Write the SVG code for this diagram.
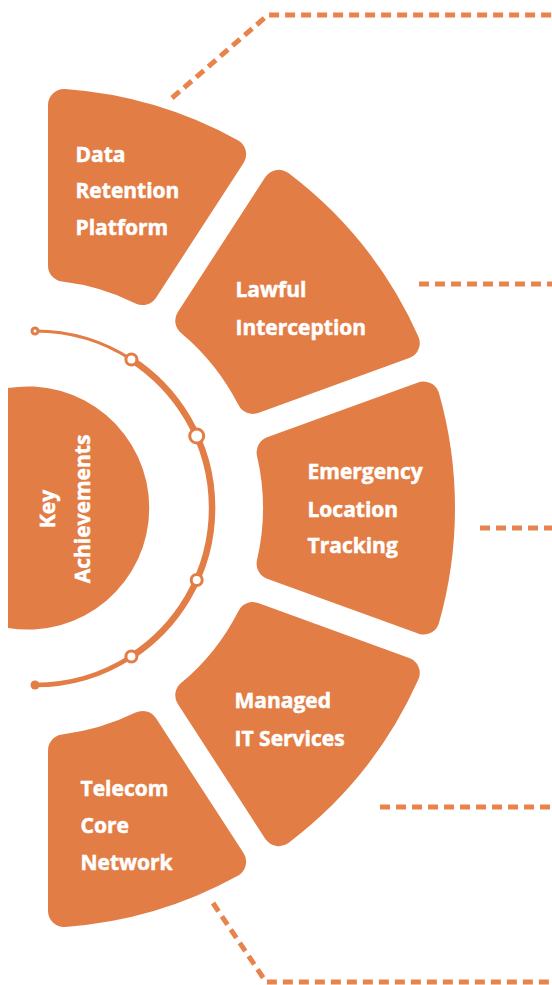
<svg xmlns="http://www.w3.org/2000/svg" width="552" height="985" viewBox="0 0 552 985">
<style>
.seg{fill:#E37D46;stroke:#E37D46;stroke-width:32;stroke-linejoin:round}
.lbl{font-family:"Open Sans","Liberation Sans",sans-serif;font-weight:700;font-size:21px;fill:#FFFFFF;stroke:#FFFFFF;stroke-width:0.5}
.dash{fill:none;stroke:#E8834B;stroke-width:5;stroke-dasharray:10 6}
.arc{fill:none;stroke:#E37D46;stroke-linecap:round}
.dot{fill:#FFFFFF;stroke:#E37D46;stroke-width:3}
</style>
<rect width="552" height="985" fill="#FFFFFF"/>
<g id="connectors">
<path class="dash" d="M172,98 L268,15 L552,15"/>
<path class="dash" d="M419,284 L552,284"/>
<path class="dash" d="M480,528 L552,528"/>
<path class="dash" d="M380,807 L552,807"/>
<path class="dash" d="M213,903 L266,982 L552,982"/>
</g>
<g id="timeline">
<path class="arc" stroke-width="3" d="M35,331 A177,177 0 0 1 131.4,359.5"/>
<path class="arc" stroke-width="6.5" d="M131.4,359.5 A177,177 0 0 1 131.4,656.5"/>
<path class="arc" stroke-width="4.5" d="M131.4,656.5 A177,177 0 0 1 35,685"/>
<circle class="dot" cx="35" cy="331" r="3" stroke-width="2.5"/>
<circle cx="35" cy="685" r="4.5" fill="#E37D46"/>
<circle class="dot" cx="131.4" cy="359.5" r="5.5"/>
<circle class="dot" cx="196.7" cy="436" r="7"/>
<circle class="dot" cx="196.7" cy="580" r="5.5"/>
<circle class="dot" cx="131.4" cy="656.5" r="5.5"/>
</g>
<g id="key-achievements">
<path d="M8,388 A121.6,121.6 0 1 1 8,628 Z" fill="#E37D46"/>
<text class="lbl" font-size="26" text-anchor="middle" transform="translate(55,509) rotate(-90)">Key</text>
<text class="lbl" font-size="26" text-anchor="middle" transform="translate(90,509) rotate(-90)">Achievements</text>
</g>
<g id="data-retention">
<path class="seg" d="M64,265.73 L64,105.04 A404,404 0 0 1 230.13,154.25 L142.62,289.02 A244,244 0 0 0 64,265.73 Z"/>
<text class="lbl"><tspan x="75.5" y="162">Data</tspan><tspan x="75.5" y="198">Retention</tspan><tspan x="75.5" y="235">Platform</tspan></text>
</g>
<g id="lawful-interception">
<path class="seg" d="M191.26,320.60 L278.77,185.83 A404,404 0 0 1 403.74,342.94 L252.74,397.89 A244,244 0 0 0 191.26,320.60 Z"/>
<text class="lbl"><tspan x="235.5" y="297">Lawful</tspan><tspan x="235.5" y="335">Interception</tspan></text>
</g>
<g id="emergency-location-tracking">
<path class="seg" d="M272.58,452.39 L423.58,397.44 A404,404 0 0 1 423.58,618.56 L272.58,563.61 A244,244 0 0 0 272.58,452.39 Z"/>
<text class="lbl"><tspan x="307.5" y="479">Emergency</tspan><tspan x="307.5" y="517">Location</tspan><tspan x="307.5" y="553">Tracking</tspan></text>
</g>
<g id="managed-it-services">
<path class="seg" d="M252.74,618.11 L403.74,673.06 A404,404 0 0 1 278.77,830.17 L191.26,695.40 A244,244 0 0 0 252.74,618.11 Z"/>
<text class="lbl"><tspan x="234.5" y="708">Managed</tspan><tspan x="234.5" y="746">IT Services</tspan></text>
</g>
<g id="telecom-core-network">
<path class="seg" d="M142.62,726.98 L230.13,861.75 A404,404 0 0 1 64,910.96 L64,750.27 A244,244 0 0 0 142.62,726.98 Z"/>
<text class="lbl"><tspan x="80.5" y="796">Telecom</tspan><tspan x="80.5" y="833">Core</tspan><tspan x="80.5" y="870">Network</tspan></text>
</g>
</svg>
